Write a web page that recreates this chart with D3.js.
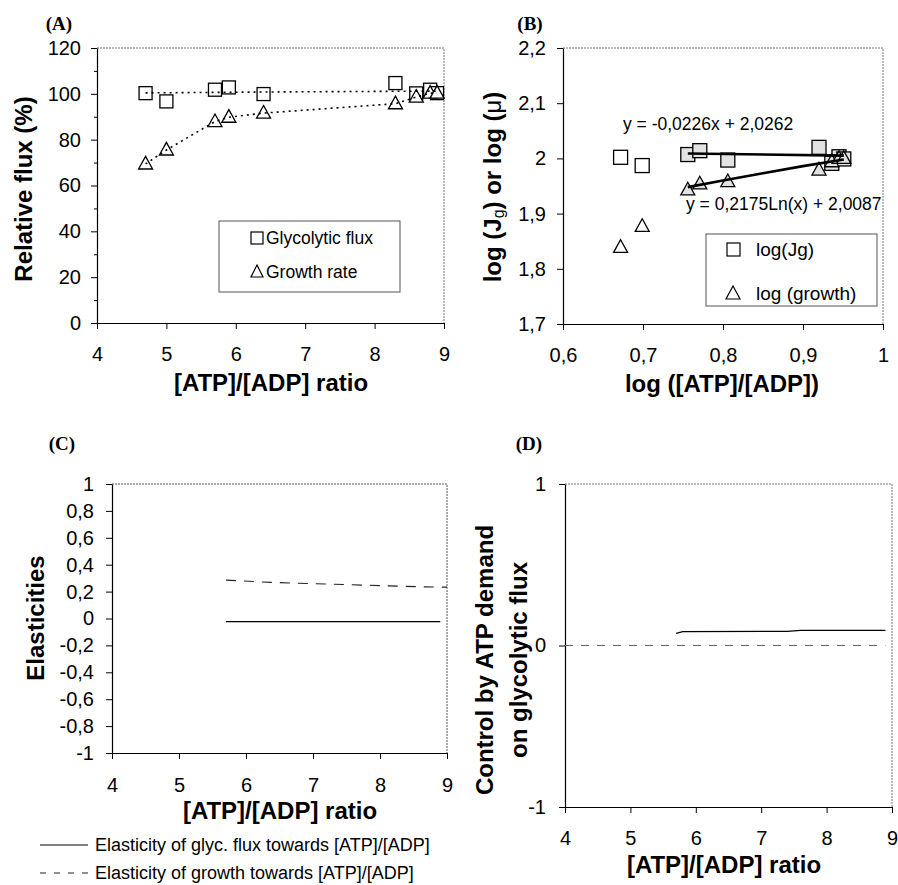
<!DOCTYPE html>
<html>
<head>
<meta charset="utf-8">
<script src="https://cdn.jsdelivr.net/npm/d3@7/dist/d3.min.js"></script>
<style>
  body { margin: 0; background: #fff; }
  text { font-family: "Liberation Sans", Arial, sans-serif; fill: #000; }
  .plabel { font-family: "Liberation Serif", "Times New Roman", serif; font-weight: bold; font-size: 19px; }
  .title { font-weight: bold; font-size: 24px; }
</style>
</head>
<body>
<svg id="fig" width="898" height="885"></svg>
<script>
////////////////////////////// DATA //////////////////////////////

// (A) relative flux vs [ATP]/[ADP]
let ratioA = [4.7, 5.0, 5.7, 5.9, 6.4, 8.3, 8.6, 8.8, 8.9];
let glycFlux = [100.3, 96.7, 101.8, 102.8, 99.9, 104.7, 100.2, 101.8, 100.3];
let growthRate = [69.4, 75.5, 87.9, 89.8, 91.6, 95.7, 98.6, 100.3, 100.3];
let glycTrendX = [4.7, 6.4, 8.9];
let glycTrendY = [100.4, 100.8, 101.2];
let ticksAx = [4, 5, 6, 7, 8, 9];
let ticksAy = [0, 20, 40, 60, 80, 100, 120];
let minorAy = [10, 30, 50, 70, 90, 110];

// (B) log-log
let logRatio = [0.672, 0.699, 0.756, 0.771, 0.806, 0.920, 0.936, 0.945, 0.951];
let logJg = [2.002, 1.987, 2.007, 2.014, 1.997, 2.020, 1.991, 2.003, 1.999];
let logGrowth = [1.839, 1.877, 1.943, 1.954, 1.958, 1.979, 1.994, 2.000, 2.000];
let inFit = [false, false, true, true, true, true, true, true, true];
let fitJgX = [0.756, 0.951];
let fitJgY = [2.009, 2.005];
let fitGrowthX = [0.756, 0.80, 0.85, 0.90, 0.951];
let fitGrowthY = [1.948, 1.960, 1.973, 1.986, 1.998];
let ticksBx = [0.6, 0.7, 0.8, 0.9, 1.0];
let ticksBy = [1.7, 1.8, 1.9, 2.0, 2.1, 2.2];

// (C) elasticities
let elasX = [5.7, 5.9, 6.4, 8.3, 8.6, 8.8, 8.9];
let elasGlyc = [-0.023, -0.023, -0.023, -0.023, -0.023, -0.023, -0.023];
let elasGrowthX = [5.7, 5.9, 6.4, 8.3, 8.6, 8.8, 9.0];
let elasGrowth = [0.285, 0.280, 0.268, 0.240, 0.236, 0.234, 0.233];
let ticksCx = [4, 5, 6, 7, 8, 9];
let ticksCy = [-1, -0.8, -0.6, -0.4, -0.2, 0, 0.2, 0.4, 0.6, 0.8, 1];

// (D) control coefficient
let ctrlX = [5.7, 5.8, 7.4, 7.6, 8.9];
let ctrlY = [0.075, 0.086, 0.088, 0.094, 0.094];
let zeroX = [4, 8.9];
let zeroY = [0, 0];
let ticksDx = [4, 5, 6, 7, 8, 9];
let ticksDy = [-1, 0, 1];

////////////////////////////// SETUP //////////////////////////////

let svg = d3.select('#fig');
let loc = d3.formatLocale({ decimal: ',', thousands: '.', grouping: [3], currency: ['', ''], minus: '-' });
let fmtDec = loc.format('.1~f');
let fmtInt = loc.format('d');

function panel(c) {
  let x = d3.scaleLinear().domain(c.xDom).range([c.left, c.right]);
  let y = d3.scaleLinear().domain(c.yDom).range([c.bottom, c.top]);
  let g = svg.append('g');

  // plot area border (top + right)
  g.append('path')
    .attr('d', `M${c.left},${c.top}H${c.right}V${c.bottom}`)
    .attr('fill', 'none')
    .attr('stroke', c.frame || '#777')
    .attr('stroke-width', 1)
    .attr('stroke-dasharray', c.frameDash || '2,1');

  let ya = d3.axisLeft(y).tickValues(c.yTicks).tickSize(6).tickSizeOuter(0)
    .tickPadding(c.yPad).tickFormat(c.yFmt);
  let yg = g.append('g').attr('transform', `translate(${c.left},0)`).call(ya);

  if (c.yMinor) {
    g.append('g').attr('transform', `translate(${c.left},0)`)
      .call(d3.axisLeft(y).tickValues(c.yMinor).tickSize(3).tickFormat(''))
      .select('.domain').remove();
  }

  let xa = d3.axisBottom(x).tickValues(c.xTicks).tickSize(6).tickSizeOuter(0)
    .tickPadding(c.xPad).tickFormat(c.xFmt);
  let xg = g.append('g').attr('transform', `translate(0,${c.bottom})`).call(xa);

  [yg, xg].forEach(a => {
    a.selectAll('text').style('font-size', c.tickFont + 'px')
      .style('font-family', '"Liberation Sans", Arial, sans-serif').attr('fill', '#000');
    a.select('.domain').attr('stroke', '#000').attr('stroke-width', 1.2);
    a.selectAll('line').attr('stroke', '#000');
  });
  return { g, x, y };
}

function squares(p, xs, ys, size, fills) {
  p.g.selectAll(null).data(xs).enter().append('rect')
    .attr('x', (d) => p.x(d) - size / 2)
    .attr('y', (d, i) => p.y(ys[i]) - size / 2)
    .attr('width', size).attr('height', size)
    .attr('fill', (d, i) => fills ? fills[i] : '#fff')
    .attr('stroke', '#000').attr('stroke-width', 1.3);
}

function triangles(p, xs, ys, size, fills) {
  let h = size * 0.9;
  p.g.selectAll(null).data(xs).enter().append('path')
    .attr('d', (d, i) => {
      let cx = p.x(d), cy = p.y(ys[i]);
      return `M${cx},${cy - h * 0.6}L${cx + size / 2},${cy + h * 0.4}L${cx - size / 2},${cy + h * 0.4}Z`;
    })
    .attr('fill', (d, i) => fills ? fills[i] : '#fff')
    .attr('stroke', '#000').attr('stroke-width', 1.3);
}

function line(p, xs, ys, style) {
  let gen = d3.line().x((d) => p.x(d)).y((d, i) => p.y(ys[i]));
  p.g.append('path').datum(xs).attr('d', gen)
    .attr('fill', 'none')
    .attr('stroke', style.color || '#000')
    .attr('stroke-width', style.width || 1.2)
    .attr('stroke-dasharray', style.dash || null)
    .attr('stroke-linecap', style.cap || 'butt');
}

function yTitle(lines, cx, cy) {
  lines.forEach(l => {
    let t = svg.append('text').attr('class', 'title')
      .attr('text-anchor', 'middle')
      .attr('transform', `translate(${l.x},${cy}) rotate(-90)`)
      .attr('dy', '0.35em');
    if (l.parts) {
      l.parts.forEach(pt => {
        let s = t.append('tspan').text(pt.t);
        if (pt.sub) s.attr('baseline-shift', '-20%').style('font-size', '16px').style('font-weight', 'normal');
        if (pt.normal) s.style('font-weight', 'normal');
      });
    } else {
      t.text(l.text);
    }
  });
}

function xTitle(text, cx, cy) {
  svg.append('text').attr('class', 'title').attr('text-anchor', 'middle')
    .attr('x', cx).attr('y', cy).attr('dy', '0.35em').text(text);
}

function panelLabel(text, cx, cy) {
  svg.append('text').attr('class', 'plabel').attr('text-anchor', 'middle')
    .attr('x', cx).attr('y', cy).attr('dy', '0.35em').text(text);
}

////////////////////////////// (A) //////////////////////////////
let pA = panel({
  xDom: [4, 9], yDom: [0, 120], left: 97, right: 444, top: 48, bottom: 323,
  xTicks: ticksAx, yTicks: ticksAy, yMinor: minorAy, xFmt: fmtInt, yFmt: fmtInt,
  xPad: 18, yPad: 10, tickFont: 20
});
squares(pA, ratioA, glycFlux, 13);
triangles(pA, ratioA, growthRate, 14);
line(pA, glycTrendX, glycTrendY, { dash: '2,4', width: 1.6 });
line(pA, ratioA, growthRate, { dash: '2,4', width: 1.6 });

// legend A
pA.g.append('rect').attr('x', 219).attr('y', 221).attr('width', 181).attr('height', 71)
  .attr('fill', '#fff').attr('stroke', '#555').attr('stroke-width', 1);
pA.g.append('rect').attr('x', 251).attr('y', 232).attr('width', 12).attr('height', 12)
  .attr('fill', '#fff').attr('stroke', '#000').attr('stroke-width', 1.2);
pA.g.append('text').attr('x', 266).attr('y', 238).attr('dy', '0.35em').style('font-size', '17.5px').text('Glycolytic flux');
pA.g.append('path').attr('d', 'M257,265L263,277L251,277Z')
  .attr('fill', '#fff').attr('stroke', '#000').attr('stroke-width', 1.2);
pA.g.append('text').attr('x', 266).attr('y', 272).attr('dy', '0.35em').style('font-size', '17.5px').text('Growth rate');

yTitle([{ x: 24, text: 'Relative flux (%)' }], 24, 189);
xTitle('[ATP]/[ADP] ratio', 271, 383);
panelLabel('(A)', 59, 23);

////////////////////////////// (B) //////////////////////////////
let pB = panel({
  xDom: [0.6, 1.0], yDom: [1.7, 2.2], left: 563, right: 883, top: 48, bottom: 324,
  xTicks: ticksBx, yTicks: ticksBy, xFmt: fmtDec, yFmt: fmtDec,
  xPad: 18, yPad: 11, tickFont: 20
});
let fillsB = inFit.map(f => f ? '#e2e2e2' : '#fff');
squares(pB, logRatio, logJg, 14, fillsB);
triangles(pB, logRatio, logGrowth, 14, fillsB);
line(pB, fitJgX, fitJgY, { width: 2.6 });
line(pB, fitGrowthX, fitGrowthY, { width: 2.6 });

pB.g.append('text').attr('x', 623).attr('y', 124).attr('dy', '0.35em').style('font-size', '17.5px')
  .text('y = -0,0226x + 2,0262');
pB.g.append('text').attr('x', 686).attr('y', 204).attr('dy', '0.35em').style('font-size', '17.5px')
  .text('y = 0,2175Ln(x) + 2,0087');

// legend B
pB.g.append('rect').attr('x', 706).attr('y', 234).attr('width', 171).attr('height', 72)
  .attr('fill', '#fff').attr('stroke', '#555').attr('stroke-width', 1);
pB.g.append('rect').attr('x', 727).attr('y', 243).attr('width', 13).attr('height', 13)
  .attr('fill', '#fff').attr('stroke', '#000').attr('stroke-width', 1.2);
pB.g.append('text').attr('x', 756).attr('y', 249).attr('dy', '0.35em').style('font-size', '19px').text('log(Jg)');
pB.g.append('path').attr('d', 'M733,286L740,299L726,299Z')
  .attr('fill', '#fff').attr('stroke', '#000').attr('stroke-width', 1.2);
pB.g.append('text').attr('x', 756).attr('y', 293).attr('dy', '0.35em').style('font-size', '19px').text('log (growth)');

yTitle([{ x: 493, parts: [{ t: 'log (J' }, { t: 'g', sub: true }, { t: ') or log (' }, { t: 'μ', normal: true }, { t: ')' }] }], 493, 187);
xTitle('log ([ATP]/[ADP])', 722, 384);
panelLabel('(B)', 530, 23);

////////////////////////////// (C) //////////////////////////////
let pC = panel({
  xDom: [4, 9], yDom: [-1, 1], left: 112, right: 447, top: 484, bottom: 753,
  xTicks: ticksCx, yTicks: ticksCy, xFmt: fmtInt, yFmt: fmtDec,
  xPad: 19, yPad: 12, tickFont: 20, frame: '#555', frameDash: null
});
line(pC, elasX, elasGlyc, { width: 1.3 });
line(pC, elasGrowthX, elasGrowth, { width: 1.1, dash: '10,8', color: '#222' });

// legend C (below the plot)
svg.append('line').attr('x1', 40).attr('x2', 88).attr('y1', 845).attr('y2', 845)
  .attr('stroke', '#000').attr('stroke-width', 1.2);
svg.append('text').attr('x', 95).attr('y', 845).attr('dy', '0.35em').style('font-size', '18px')
  .text('Elasticity of glyc. flux towards [ATP]/[ADP]');
svg.append('line').attr('x1', 40).attr('x2', 88).attr('y1', 873).attr('y2', 873)
  .attr('stroke', '#222').attr('stroke-width', 1.1).attr('stroke-dasharray', '6,8');
svg.append('text').attr('x', 95).attr('y', 873).attr('dy', '0.35em').style('font-size', '18px')
  .text('Elasticity of growth towards [ATP]/[ADP]');

yTitle([{ x: 36, text: 'Elasticities' }], 36, 618);
xTitle('[ATP]/[ADP] ratio', 280, 811);
panelLabel('(C)', 62, 443);

////////////////////////////// (D) //////////////////////////////
let pD = panel({
  xDom: [4, 9], yDom: [-1, 1], left: 565, right: 892, top: 484, bottom: 807,
  xTicks: ticksDx, yTicks: ticksDy, xFmt: fmtInt, yFmt: fmtInt,
  xPad: 18, yPad: 13, tickFont: 20
});
line(pD, zeroX, zeroY, { width: 1, dash: '8,8', color: '#666' });
line(pD, ctrlX, ctrlY, { width: 1.3 });

yTitle([{ x: 485, text: 'Control by ATP demand' }, { x: 519, text: 'on glycolytic flux' }], 0, 660);
xTitle('[ATP]/[ADP] ratio', 724, 865);
panelLabel('(D)', 529, 443);
</script>
</body>
</html>
